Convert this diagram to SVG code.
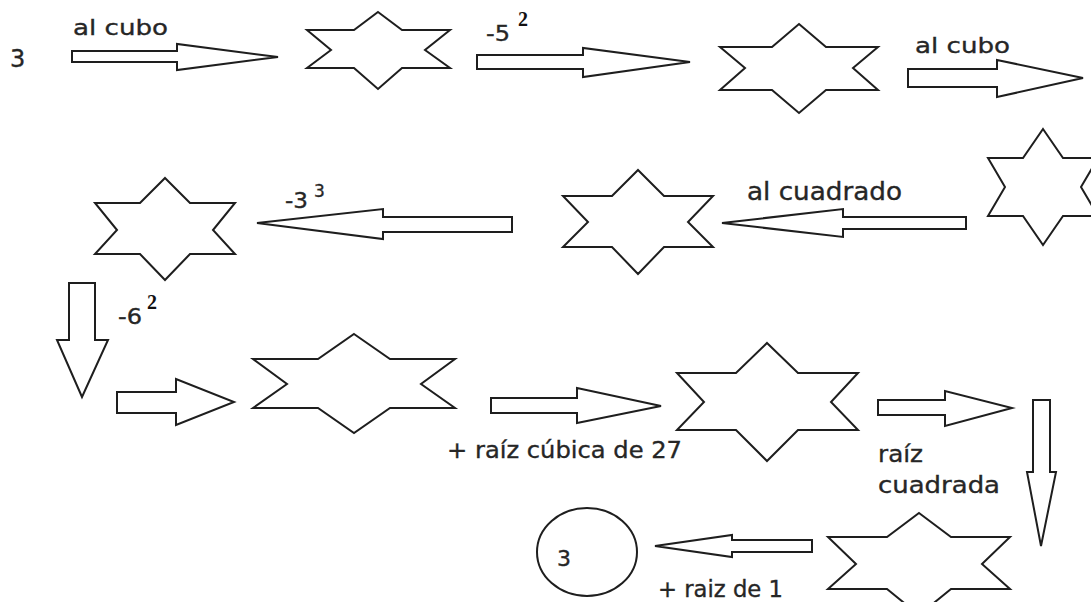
<svg xmlns="http://www.w3.org/2000/svg" width="1091" height="602" viewBox="0 0 1091 602">
<style>
.star{fill:#fff;stroke:#1e1e1e;stroke-width:2;stroke-linejoin:miter}
.arr{fill:#fff;stroke:#1e1e1e;stroke-width:2;stroke-linejoin:miter}
.t{font-family:"DejaVu Sans","Open Sans",sans-serif;fill:#262626;stroke:#262626;stroke-width:0.35}
.sup{font-family:"Liberation Serif","DejaVu Serif",serif;font-weight:bold;fill:#111}
</style>
<rect width="1091" height="602" fill="#fff"/>
<g id="connectors">
<polygon class="arr" points="72,51 177,51 177,44 278,57 177,70 177,62 72,62"/>
<polygon class="arr" points="477,55 583,55 583,48 690,62 583,77 583,69 477,69"/>
<polygon class="arr" points="908,69 997,69 997,60 1083,78 997,97 997,87 908,87"/>
<polygon class="arr" points="512,217 383,217 383,209 257,223 383,239 383,232 512,232"/>
<polygon class="arr" points="966,217 843,217 843,209 722,223 843,237 843,229 966,229"/>
<polygon class="arr" points="69,283 95,283 95,340 108,340 82,397 57,340 69,340"/>
<polygon class="arr" points="117,392 176,392 176,379 234,402 176,425 176,413 117,413"/>
<polygon class="arr" points="491,398 577,398 577,388 661,406 577,423 577,413 491,413"/>
<polygon class="arr" points="878,400 945,400 945,391 1012,408 945,426 945,415 878,415"/>
<polygon class="arr" points="1033,400 1050,400 1050,472 1056,472 1041,546 1027,472 1033,472"/>
<polygon class="arr" points="812,540 732,540 732,535 655,546 732,557 732,552 812,552"/>
</g>
<g id="labels">
<text class="t" x="73" y="35" font-size="22" textLength="95" lengthAdjust="spacingAndGlyphs">al cubo</text>
<text class="t" x="486" y="41" font-size="22" textLength="24" lengthAdjust="spacingAndGlyphs">-5</text>
<text class="sup" x="518" y="26" font-size="20">2</text>
<text class="t" x="915" y="53" font-size="22" textLength="95" lengthAdjust="spacingAndGlyphs">al cubo</text>
<text class="t" x="747" y="200" font-size="24" textLength="155" lengthAdjust="spacingAndGlyphs">al cuadrado</text>
<text class="t" x="285" y="208" font-size="22" textLength="23" lengthAdjust="spacingAndGlyphs">-3</text>
<text class="t" x="314" y="197" font-size="17">3</text>
<text class="t" x="118" y="324" font-size="22" textLength="24" lengthAdjust="spacingAndGlyphs">-6</text>
<text class="sup" x="147" y="309" font-size="20">2</text>
<text class="t" x="447" y="458" font-size="23" textLength="235" lengthAdjust="spacingAndGlyphs">+ raíz cúbica de 27</text>
<text class="t" x="878" y="462" font-size="23" textLength="45" lengthAdjust="spacingAndGlyphs">raíz</text>
<text class="t" x="878" y="493" font-size="23" textLength="122" lengthAdjust="spacingAndGlyphs">cuadrada</text>
<text class="t" x="658" y="597" font-size="23" textLength="125" lengthAdjust="spacingAndGlyphs">+ raiz de 1</text>
</g>
<g id="start"><text class="t" x="10" y="67" font-size="24" stroke-width="0.8">3</text></g>
<g id="star1"><polygon class="star" points="378,12 402,30 450,30 425,50 450,68 402,68 378,89 354,68 307,68 331,50 307,30 354,30"/></g>
<g id="star2"><polygon class="star" points="799,24 826,47 878,47 853,68 878,90 826,90 799,113 772,90 720,90 745,68 720,47 772,47"/></g>
<g id="star3"><polygon class="star" points="1043,129 1063,158 1098,158 1081,187 1098,216 1063,216 1043,245 1023,216 988,216 1005,187 988,158 1023,158"/></g>
<g id="star4"><polygon class="star" points="638,170 664,196 713,196 688,222 713,247 664,247 638,274 612,247 563,247 588,222 563,196 612,196"/></g>
<g id="star5"><polygon class="star" points="165,178 190,203 235,203 213,230 235,254 190,254 165,280 140,254 95,254 117,230 95,203 140,203"/></g>
<g id="star6"><polygon class="star" points="354,334 390,359 455,359 421,384 455,408 390,408 354,433 318,408 253,408 287,384 253,359 318,359"/></g>
<g id="star7"><polygon class="star" points="767,343 798,373 858,373 831,402 858,430 798,430 767,461 736,430 677,430 704,402 677,373 736,373"/></g>
<g id="star8"><polygon class="star" points="919,513 951,537 1010,537 982,564 1010,589 951,589 919,615 887,589 828,589 856,564 828,537 887,537"/></g>
<g id="end">
<ellipse cx="587" cy="552" rx="50" ry="44" fill="#fff" stroke="#1e1e1e" stroke-width="2"/>
<text class="t" x="557" y="566" font-size="22" stroke-width="0.6">3</text>
</g>
</svg>
